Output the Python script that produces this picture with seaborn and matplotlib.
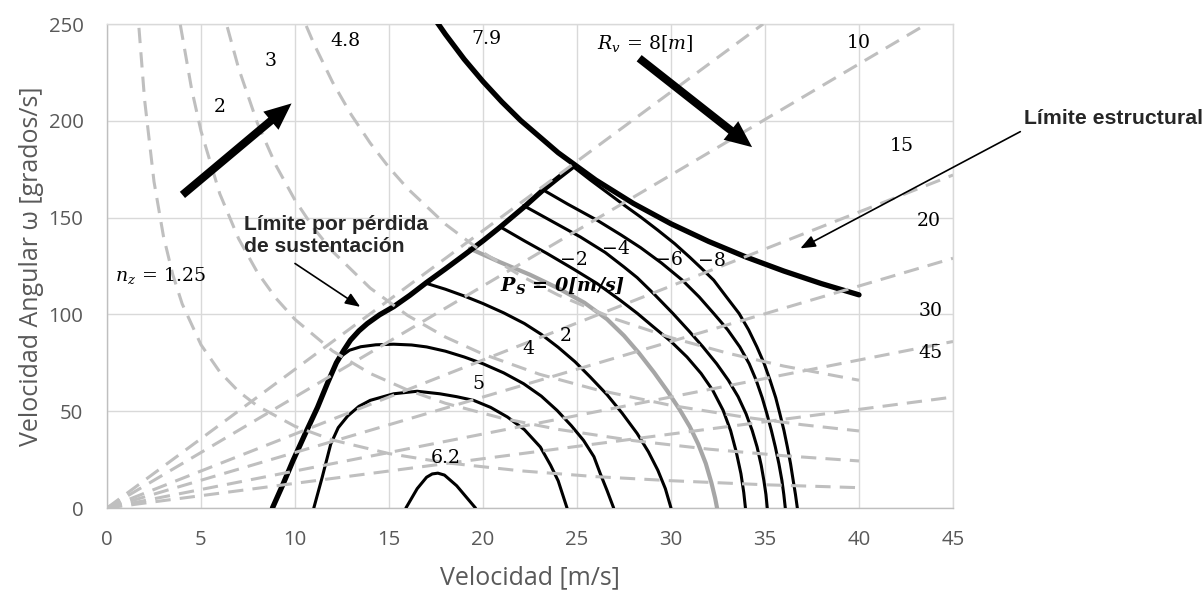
import matplotlib
matplotlib.use("Agg")
import matplotlib.pyplot as plt
import seaborn as sns
from matplotlib.patches import FancyArrowPatch

# --- curvas de factor de carga (lineas grises a trazos) ---
nz125_v = [1.7, 2.0, 2.5, 3.0, 3.5, 4.0, 5.0, 6.0, 7.0, 8.0, 10, 12, 15, 18, 22, 26, 30, 35, 40]
nz125_w = [248.0, 210.8, 168.6, 140.5, 120.5, 105.4, 84.3, 70.3, 60.2, 52.7, 42.2, 35.1, 28.1, 23.4, 19.2, 16.2, 14.1, 12.0, 10.5]
nz2_v = [3.9, 4.5, 5, 6, 7, 8, 9, 10, 12, 14, 16, 18, 21, 24, 28, 32, 36, 40]
nz2_w = [249.6, 216.4, 194.7, 162.3, 139.1, 121.7, 108.2, 97.4, 81.1, 69.5, 60.9, 54.1, 46.4, 40.6, 34.8, 30.4, 27.0, 24.3]
nz3_v = [6.4, 7, 8, 9, 10, 11, 12, 14, 16, 18, 20, 23, 26, 30, 34, 37, 40]
nz3_w = [248.4, 227.1, 198.8, 176.7, 159.0, 144.5, 132.5, 113.6, 99.4, 88.3, 79.5, 69.1, 61.2, 53.0, 46.8, 43.0, 39.8]
nz48_v = [10.6, 11, 12, 13, 14, 15, 16, 18, 20, 22, 24, 27, 30, 33, 36, 40]
nz48_w = [249.0, 239.9, 219.9, 203.0, 188.5, 175.9, 164.9, 146.6, 132.0, 120.0, 110.0, 97.7, 88.0, 80.0, 73.3, 66.0]

# --- radios de viraje (rectas desde el origen) ---
radio_v = [[0, 34.9], [0, 43.6], [0, 45], [0, 45], [0, 45], [0, 45]]
radio_w = [[0, 250], [0, 250], [0, 172], [0, 129], [0, 86], [0, 57.3]]

# --- limites ---
estr_v = [17.5, 18, 19, 20, 21, 22, 24, 26, 28, 30, 32, 34, 36, 38, 40]
estr_w = [251.7, 244.7, 231.8, 220.3, 209.8, 200.2, 183.5, 169.4, 157.3, 146.8, 137.7, 129.6, 122.4, 115.9, 110.1]
perd_v = [8.8, 9.35, 9.9, 10.55, 11.2, 11.75, 12.2, 12.6, 12.95, 13.4, 13.85, 14.5, 15.25, 16.1, 17.0, 18.0, 19.0, 20.0, 20.9, 22.2, 23.2, 24.0, 24.8]
perd_w = [0, 12, 24.6, 38.5, 52, 65, 75, 81.5, 86.7, 91.5, 95.3, 99.8, 104, 109.8, 116.5, 123.5, 130.7, 138, 145, 155.6, 164.3, 170.5, 176.5]

# --- contornos de potencia especifica Ps ---
ps62_v = [15.9, 16.5, 17.0, 17.3, 17.6, 17.95, 18.6, 19.6]
ps62_w = [0, 10, 15.9, 17.6, 18, 17, 11.5, 0]
ps5_v = [11.0, 11.45, 11.9, 12.3, 12.8, 13.4, 14.0, 15.25, 16.5, 17.7, 18.6, 19.5, 20.4, 21.3, 22.2, 23.05, 23.6, 24.0, 24.47]
ps5_w = [0, 16, 33, 41.5, 47.5, 52.5, 55.6, 59, 60.3, 59, 57.5, 55.6, 52, 47, 40.5, 31.5, 22, 14, 0]
ps4_v = [12.4, 12.9, 13.5, 14.3, 15.25, 16.2, 17.0, 18.0, 19.0, 20.0, 21.1, 22.16, 23.1, 23.94, 24.7, 25.35, 25.9, 26.24, 26.6, 26.95]
ps4_w = [78, 81.5, 83.3, 84.3, 84.6, 84.2, 83.2, 81, 78, 74.5, 69.8, 64.2, 57.8, 50.4, 42.5, 34.9, 26.5, 17.7, 9, 0]
ps2_v = [17.0, 18.0, 19.0, 20.0, 21.1, 22.2, 23.1, 24.0, 24.9, 25.7, 26.6, 27.4, 28.2, 28.8, 29.3, 29.7, 30.0]
ps2_w = [116, 113, 109.5, 105.6, 100.8, 95.3, 89.7, 83, 75.5, 67.7, 58.5, 49, 38.5, 29, 19.5, 10, 0]
ps0_v = [19.3, 20.9, 22.5, 24.0, 25.4, 26.6, 27.5, 28.3, 29.1, 29.8, 30.45, 31.0, 31.45, 31.85, 32.15, 32.35, 32.45]
ps0_w = [134, 127, 120.5, 113.5, 106, 97.5, 89, 80, 70, 60.5, 51, 42, 33, 23, 13, 5, 0]
psm2_v = [20.9, 22.2, 23.4, 24.8, 26.06, 27.3, 28.2, 29.07, 30.0, 30.85, 31.6, 32.22, 32.77, 33.17, 33.47, 33.72, 33.87, 33.96]
psm2_w = [145.3, 138, 131.5, 123.5, 116, 107.3, 100.6, 93.5, 86, 78, 69.5, 60.8, 50.5, 40, 29, 17.7, 8, 0]
psm4_v = [22.16, 23.5, 25.18, 26.5, 27.5, 28.2, 29.15, 30.1, 30.95, 31.7, 32.43, 33.05, 33.57, 33.99, 34.32, 34.58, 34.8, 34.94, 35.05, 35.12]
psm4_w = [156.2, 149, 140, 132, 124.5, 119, 110, 100.5, 91.5, 83.2, 74.5, 66, 57.5, 48.7, 40, 31.5, 22, 14.2, 7, 0]
psm6_v = [23.2, 24.5, 26.06, 27.35, 28.38, 29.5, 30.6, 31.5, 32.27, 33.02, 33.66, 34.16, 34.53, 34.85, 35.1, 35.34, 35.55, 35.74, 35.9, 36.0, 36.08]
psm6_w = [164.3, 157, 148.7, 141, 134.5, 126.5, 117.7, 109, 100.5, 92, 83.2, 74.5, 66, 57, 48.7, 40, 31.5, 22.8, 14.2, 7, 0]
psm8_v = [24.8, 25.7, 26.6, 27.5, 28.4, 29.3, 30.2, 31.0, 31.6, 32.27, 32.95, 33.62, 34.13, 34.57, 34.96, 35.27, 35.57, 35.79, 36.01, 36.19, 36.36, 36.5, 36.62, 36.72]
psm8_w = [176.3, 169.5, 163, 156.5, 150.2, 143.5, 136.5, 129.5, 124, 117.7, 109, 100.5, 92, 83.2, 74.5, 66, 57, 48.7, 40, 31.5, 22.8, 14.2, 7, 0]

# etiquetas: texto, v, w
etiquetas = [
    (r"$n_z\,=\,1.25$", 0.45, 120, "left"),
    ("2", 6.0, 207, "center"), ("3", 8.7, 231, "center"), ("4.8", 12.7, 241, "center"),
    ("7.9", 20.2, 242, "center"), (r"$R_v\,=\,8[m]$", 28.65, 240, "center"),
    ("10", 40.0, 240, "center"), ("15", 42.3, 187, "center"), ("20", 43.7, 148, "center"),
    ("30", 43.8, 102, "center"), ("45", 43.8, 80, "center"),
    ("\u22122", 24.85, 128, "center"), ("\u22124", 27.1, 134, "center"),
    ("\u22126", 29.9, 128, "center"), ("\u22128", 32.2, 127.6, "center"),
    ("2", 24.4, 89, "center"), ("4", 22.4, 82.3, "center"), ("5", 19.75, 64.2, "center"),
    ("6.2", 18.0, 25.6, "center"),
]

sns.set_theme(style="white")
plt.rcParams["font.family"] = ["Open Sans", "DejaVu Serif"]
plt.rcParams["mathtext.fontset"] = "custom"
plt.rcParams["mathtext.rm"] = "DejaVu Serif"
plt.rcParams["mathtext.it"] = "DejaVu Serif:italic"
plt.rcParams["mathtext.bf"] = "DejaVu Serif:italic:bold"

fig = plt.figure(figsize=(12.04, 5.91), dpi=100)
ax = fig.add_axes([107 / 1204, 1 - 508 / 591, 846 / 1204, 484 / 591])

gris = "#BFBFBF"
trazo = (0, (5, 3))


def linea(v, w, **kw):
    sns.lineplot(x=v, y=w, ax=ax, sort=False, estimator=None, **kw)


# contornos Ps
for v, w in [(ps62_v, ps62_w), (ps5_v, ps5_w), (ps4_v, ps4_w), (ps2_v, ps2_w),
             (psm2_v, psm2_w), (psm4_v, psm4_w), (psm6_v, psm6_w), (psm8_v, psm8_w)]:
    linea(v, w, color="black", lw=2.2, zorder=3)
linea(ps0_v, ps0_w, color="#A6A6A6", lw=3.0, zorder=3)

# limites
linea(perd_v, perd_w, color="black", lw=3.8, zorder=3)
linea(estr_v, estr_w, color="black", lw=3.8, zorder=3)

# lineas a trazos
for v, w in [(nz125_v, nz125_w), (nz2_v, nz2_w), (nz3_v, nz3_w), (nz48_v, nz48_w)]:
    linea(v, w, color=gris, lw=2.2, linestyle=trazo, zorder=4)
for v, w in zip(radio_v, radio_w):
    linea(v, w, color=gris, lw=2.2, linestyle=trazo, zorder=4)

for txt, v, w, ha in etiquetas:
    ax.text(v, w, txt, ha=ha, va="center", fontsize=13.6, color="black",
            family="DejaVu Serif", zorder=6)
ax.text(24.25, 114.6, r"$\mathbf{P_S\,=\,0[m/s]}$", ha="center", va="center",
        fontsize=13.8, color="black", zorder=6)

# flechas gruesas
for a, b in [((3.9, 160.8), (9.93, 209.9)), ((28.19, 233.2), (34.43, 185.5))]:
    ax.add_patch(FancyArrowPatch(a, b, arrowstyle="simple,head_length=0.97,head_width=0.85,tail_width=0.29",
                                 mutation_scale=20, color="black", lw=0, zorder=7))

# anotaciones
ax.text(7.27, 151.5, "Límite por pérdida\nde sustentación", ha="left", va="top",
        fontsize=15.2, fontweight="bold", family="Liberation Sans", linespacing=1.2, zorder=6)
ax.text(48.75, 201, "Límite estructural", ha="left", va="center", fontsize=15.3,
        fontweight="bold", family="Liberation Sans", clip_on=False, zorder=6)
for a, b in [((10.0, 126.3), (13.47, 103.9)), ((48.58, 194.4), (36.88, 134.1))]:
    ax.add_patch(FancyArrowPatch(a, b, arrowstyle="-|>,head_length=0.9,head_width=0.36",
                                 mutation_scale=10, color="black", lw=1.2, clip_on=False,
                                 shrinkA=0, shrinkB=0, zorder=7))

ax.set_xlim(0, 45)
ax.set_ylim(0, 250)
ax.set_xticks(range(0, 46, 5))
ax.set_yticks(range(0, 251, 50))
ax.grid(True, color="#D9D9D9", lw=1.0, zorder=0)
ax.set_axisbelow(True)
ax.tick_params(axis="both", length=0, labelsize=14.7, labelcolor="#595959")
ax.tick_params(axis="x", pad=16)
ax.tick_params(axis="y", pad=17)
for s in ["top", "right"]:
    ax.spines[s].set_color("#D9D9D9")
for s in ["left", "bottom"]:
    ax.spines[s].set_color("#BFBFBF")
for s in ax.spines.values():
    s.set_linewidth(1.0)

ax.set_xlabel("Velocidad [m/s]", fontsize=18, color="#595959")
ax.set_ylabel("Velocidad Angular \u03c9 [grados/s]", fontsize=18, color="#595959")
ax.xaxis.set_label_coords(0.5, -0.118)
ax.yaxis.set_label_coords(-0.075, 0.5)

fig.savefig("out.png", dpi=100)
